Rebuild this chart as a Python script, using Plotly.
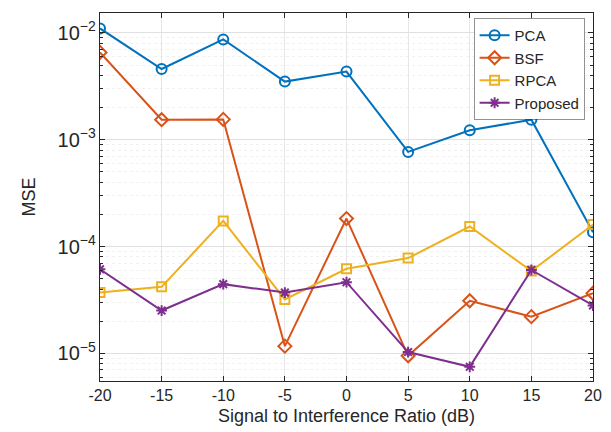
import plotly.graph_objects as go

# Signal to interference ratio (dB)
sir_db = [-20, -15, -10, -5, 0, 5, 10, 15, 20]

# Mean squared error per method
mse_pca = [0.0110, 0.00459, 0.00868, 0.00350, 0.00434, 0.000769, 0.001225, 0.00154, 0.000136]
mse_bsf = [0.00656, 0.00154, 0.00155, 1.17e-5, 1.83e-4, 9.5e-6, 3.11e-5, 2.21e-5, 3.66e-5]
mse_rpca = [3.71e-5, 4.2e-5, 1.74e-4, 3.2e-5, 6.2e-5, 7.8e-5, 1.54e-4, 5.9e-5, 1.61e-4]
mse_proposed = [6.13e-5, 2.52e-5, 4.45e-5, 3.71e-5, 4.64e-5, 1.03e-5, 7.5e-6, 6.04e-5, 2.81e-5]

series = [
    ("PCA", mse_pca, "#0072BD", "circle-open", 10),
    ("BSF", mse_bsf, "#D95319", "diamond-open", 10),
    ("RPCA", mse_rpca, "#EDB120", "square-open", 9),
    ("Proposed", mse_proposed, "#7E2F8E", "asterisk-open", 9),
]

FONT = "Liberation Sans, Arial, Helvetica, sans-serif"
INK = "#262626"

fig = go.Figure()
for name, vals, color, symbol, size in series:
    fig.add_trace(go.Scatter(
        x=sir_db, y=vals, name=name, mode="lines+markers",
        line=dict(color=color, width=2),
        marker=dict(symbol=symbol, size=size, color=color,
                    line=dict(color=color, width=2)),
    ))

fig.update_layout(
    width=611, height=432,
    margin=dict(l=100, r=9, t=13, b=49),
    paper_bgcolor="white", plot_bgcolor="white",
    font=dict(family=FONT, size=16, color=INK),
    showlegend=True,
    legend=dict(
        x=0.984, y=0.985, xanchor="right", yanchor="top",
        bgcolor="white", bordercolor=INK, borderwidth=0.5,
        font=dict(size=15, color=INK),
        tracegroupgap=0, itemwidth=30,
    ),
)

fig.update_xaxes(
    range=[-20, 20], tickvals=sir_db, ticktext=[str(v) for v in sir_db],
    showgrid=True, gridcolor="#e6e6e6", gridwidth=1,
    showline=True, linecolor=INK, linewidth=1, mirror="ticks",
    ticks="inside", ticklen=5, tickcolor=INK,
    tickfont=dict(size=16, color=INK),
    title=dict(text="Signal to Interference Ratio (dB)", font=dict(size=18, color=INK), standoff=6),
    zeroline=False,
)

fig.update_yaxes(
    type="log", range=[-5.258, -1.814], dtick=1,
    exponentformat="power", showexponent="all",
    showgrid=True, gridcolor="#e0e0e0", gridwidth=1,
    minor=dict(ticks="inside", ticklen=3, tickcolor=INK,
               showgrid=True, gridcolor="#f0f0f0", griddash="dot"),
    showline=True, linecolor=INK, linewidth=1, mirror="ticks",
    ticks="inside", ticklen=5, tickcolor=INK,
    tickfont=dict(size=16, color=INK),
    title=dict(text="MSE", font=dict(size=18, color=INK), standoff=17),
    zeroline=False,
)

fig.write_html("out.html")
